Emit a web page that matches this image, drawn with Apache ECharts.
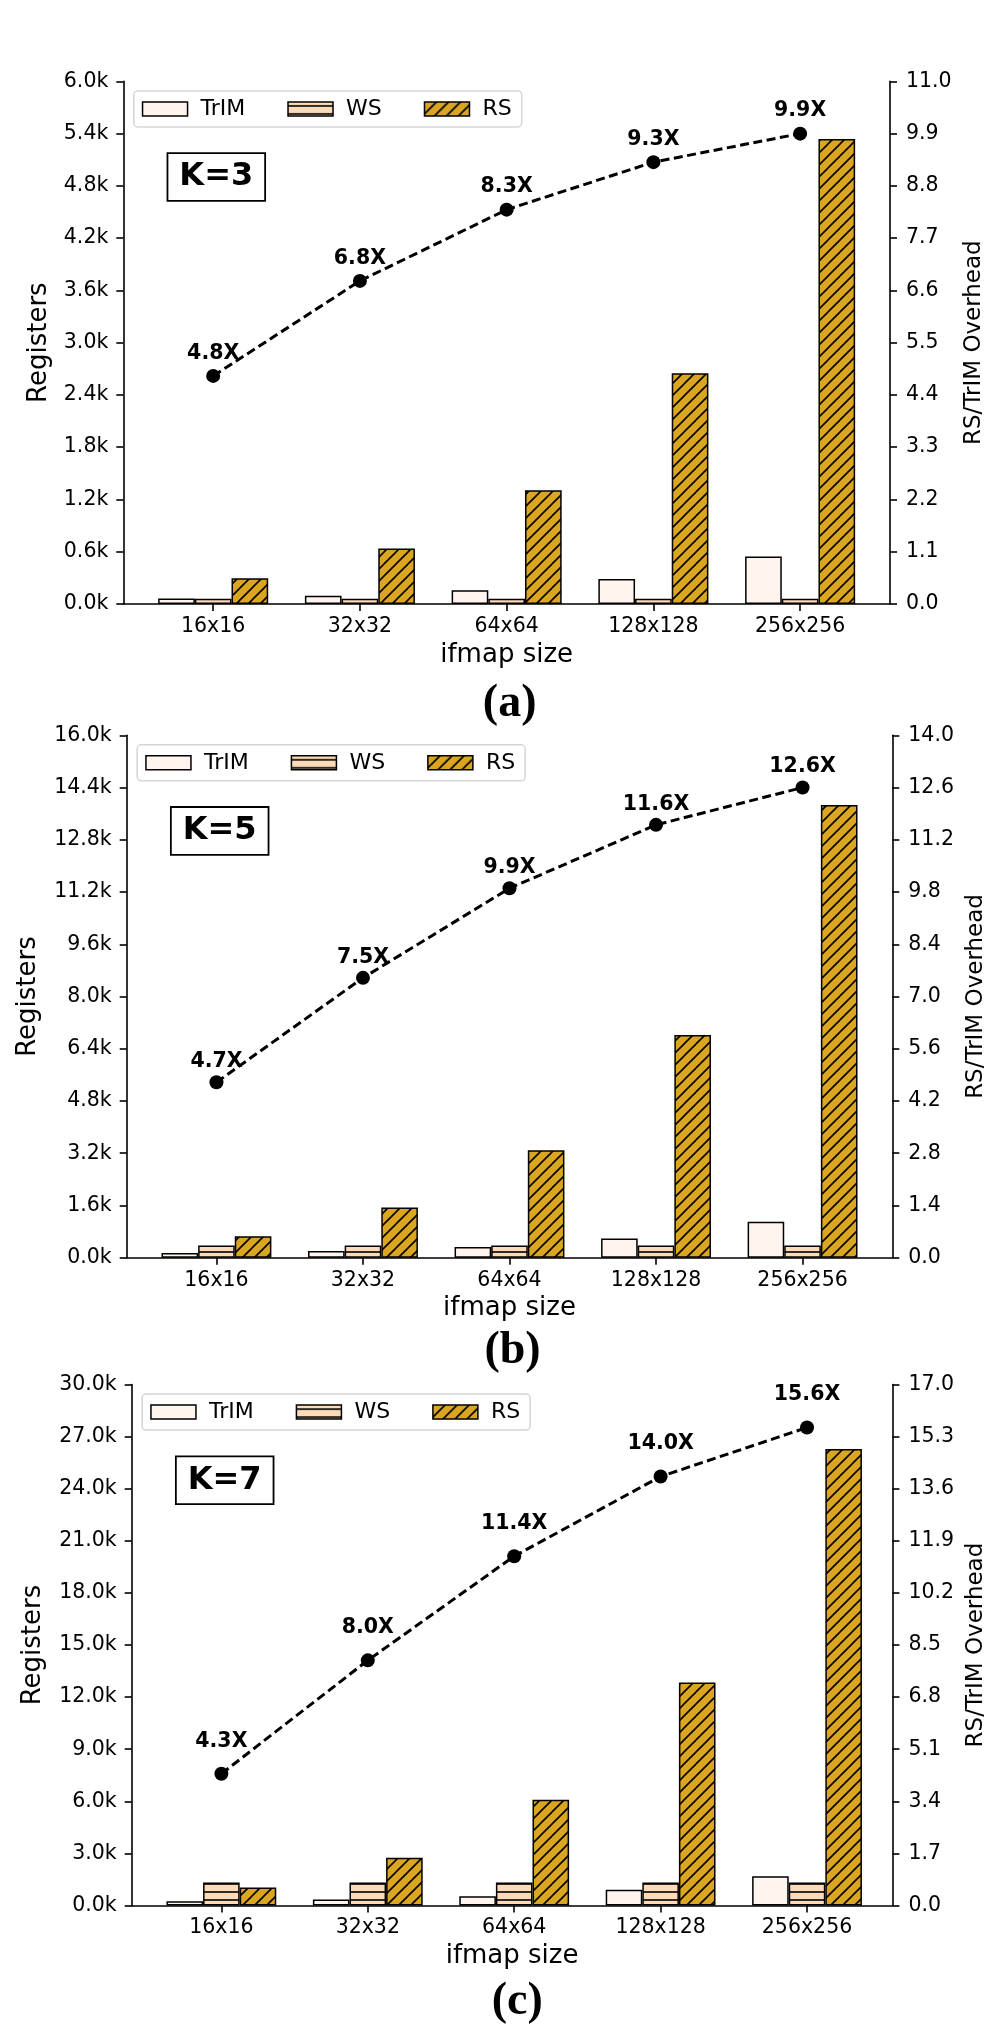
<!DOCTYPE html>
<html>
<head>
<meta charset="utf-8">
<script src="https://cdn.jsdelivr.net/npm/echarts@6/dist/echarts.min.js"></script>
<style>
  html, body { margin: 0; padding: 0; background: #fff; }
  #chart { width: 996px; height: 2025px; }
</style>
</head>
<body>
<div id="chart"></div>
<script>
// ---- data ----
const categories = ["16x16", "32x32", "64x64", "128x128", "256x256"];

const trimK3 = [62, 94, 156, 287, 545];
const wsK3 = [60, 60, 60, 60, 60];
const rsK3 = [295, 636, 1304, 2650, 5340];
const overheadK3 = [4.8, 6.8, 8.3, 9.3, 9.9];

const trimK5 = [145, 206, 328, 586, 1102];
const wsK5 = [375, 375, 375, 375, 375];
const rsK5 = [656, 1536, 3294, 6822, 13868];
const overheadK5 = [4.7, 7.5, 9.9, 11.6, 12.6];

const trimK7 = [241, 345, 538, 914, 1684];
const wsK7 = [1323, 1323, 1323, 1323, 1323];
const rsK7 = [1034, 2743, 6087, 12847, 26295];
const overheadK7 = [4.3, 8.0, 11.4, 14.0, 15.6];

const kLabels = ["K=3", "K=5", "K=7"];
const subLabels = ["(a)", "(b)", "(c)"];
const registerMax = [6000, 16000, 30000];
const overheadMax = [11, 14, 17];

// ---- layout (px) ----
const panels = [
  { L: 123.3, R: 890.0, T: 81.4, B: 603.9, nameGapY: 71, labelDist: 5, subOff: 100 },
  { L: 126.7, R: 892.3, T: 735.3, B: 1257.7, nameGapY: 85, labelDist: 3, subOff: 93 },
  { L: 131.7, R: 896.7, T: 1384.6, B: 1905.5, nameGapY: 85, labelDist: 15, subOff: 96.5 }
];
const seriesData = [
  [trimK3, wsK3, rsK3, overheadK3],
  [trimK5, wsK5, rsK5, overheadK5],
  [trimK7, wsK7, rsK7, overheadK7]
];

const FONT = "DejaVu Sans";

function hatch(bg, kind, size) {
  const c = document.createElement("canvas");
  c.width = size;
  c.height = size;
  const ctx = c.getContext("2d");
  ctx.fillStyle = bg;
  ctx.fillRect(0, 0, size, size);
  if (kind) {
    ctx.strokeStyle = "#000";
    ctx.lineWidth = 1.6;
    ctx.beginPath();
    if (kind === "diag") {
      for (let k = -1; k <= 1; k++) {
        ctx.moveTo(k * size - 1, size + 1);
        ctx.lineTo(k * size + size + 1, -1);
      }
    } else {
      ctx.moveTo(0, size / 2);
      ctx.lineTo(size, size / 2);
    }
    ctx.stroke();
  }
  return c;
}

const trimFill = "#FFF5EE";
const wsFill = { image: hatch("#FFDAB9", "horiz", 8), repeat: "repeat" };
const rsFill = { image: hatch("#DAA520", "diag", 12), repeat: "repeat" };

const axisLine = { show: true, onZero: false, lineStyle: { color: "#000", width: 1.6 } };
const axisTick = { show: true, length: 7, lineStyle: { color: "#000", width: 1.6 } };
const labelStyle = { color: "#000", fontFamily: FONT, fontSize: 20.5 };
const nameStyle = { color: "#000", fontFamily: FONT, fontSize: 23 };
const bigNameStyle = { color: "#000", fontFamily: FONT, fontSize: 26 };

const grid = [], xAxis = [], yAxis = [], series = [], legend = [], graphic = [];

panels.forEach((p, i) => {
  const w = p.R - p.L;
  const unit = w / 5.225;      // px per category step
  const pad = unit * 0.1125;   // extra margin beyond the category bands

  grid.push({ left: p.L, top: p.T, width: w, height: p.B - p.T });
  grid.push({ left: p.L + pad, top: p.T, width: w - 2 * pad, height: p.B - p.T });

  xAxis.push({
    gridIndex: 2 * i, type: "value", min: 0, max: 1,
    axisLine, axisTick: { show: false }, axisLabel: { show: false }, splitLine: { show: false },
    name: "ifmap size", nameLocation: "middle", nameGap: 38, nameTextStyle: bigNameStyle
  });
  xAxis.push({
    gridIndex: 2 * i + 1, type: "category", data: categories,
    axisLine: { show: false },
    axisTick: Object.assign({ alignWithLabel: true }, axisTick),
    axisLabel: Object.assign({ margin: 12 }, labelStyle)
  });

  yAxis.push({
    gridIndex: 2 * i, type: "value", position: "left",
    min: 0, max: registerMax[i], interval: registerMax[i] / 10,
    axisLine, axisTick, splitLine: { show: false },
    axisLabel: Object.assign({ margin: 15, formatter: v => (v / 1000).toFixed(1) + "k" }, labelStyle),
    name: "Registers", nameLocation: "middle", nameGap: p.nameGapY, nameTextStyle: bigNameStyle
  });
  yAxis.push({
    gridIndex: 2 * i, type: "value", position: "right",
    min: 0, max: overheadMax[i], interval: overheadMax[i] / 10,
    axisLine, axisTick, splitLine: { show: false },
    axisLabel: Object.assign({ margin: 16, formatter: v => v.toFixed(1) }, labelStyle),
    name: "RS/TrIM Overhead", nameLocation: "middle", nameGap: 70.5, nameTextStyle: nameStyle
  });
  yAxis.push({ gridIndex: 2 * i + 1, type: "value", min: 0, max: registerMax[i], show: false });
  yAxis.push({ gridIndex: 2 * i + 1, type: "value", min: 0, max: overheadMax[i], show: false, position: "right" });

  const [trim, ws, rs, overhead] = seriesData[i];
  const barW = unit * 0.25;
  const bar = (name, data, color) => ({
    type: "bar", name, data,
    xAxisIndex: 2 * i + 1, yAxisIndex: 4 * i + 2,
    barWidth: barW, barGap: "0%",
    itemStyle: { color, borderColor: "#000", borderWidth: 1.5 }
  });
  series.push(bar("TrIM", trim, trimFill));
  series.push(bar("WS", ws, wsFill));
  series.push(bar("RS", rs, rsFill));
  series.push({
    type: "line", name: "RS/TrIM", data: overhead,
    xAxisIndex: 2 * i + 1, yAxisIndex: 4 * i + 3,
    symbol: "circle", symbolSize: 14, z: 5,
    itemStyle: { color: "#000" },
    lineStyle: { color: "#000", width: 3, type: [9, 4.5] },
    label: {
      show: true, position: "top", distance: p.labelDist,
      formatter: d => d.value.toFixed(1) + "X",
      color: "#000", fontFamily: FONT, fontWeight: "bold", fontSize: 20.5
    }
  });

  legend.push({
    left: p.L + 10.5, top: p.T + 9.5,
    data: ["TrIM", "WS", "RS"],
    icon: "rect", itemWidth: 45, itemHeight: 14, itemGap: 42,
    padding: [7, 10, 7, 8],
    borderColor: "#d6d6d6", borderWidth: 1.5, borderRadius: 4,
    backgroundColor: "rgba(255,255,255,0.8)",
    selectedMode: false,
    itemStyle: { borderColor: "#000", borderWidth: 1.5 },
    textStyle: { color: "#000", fontFamily: FONT, fontSize: 22, padding: [0, 0, 0, 8] }
  });

  graphic.push({
    type: "text", x: p.L + 93, y: p.T + 95.6, z: 10,
    style: {
      text: kLabels[i], font: 'bold 32px "DejaVu Sans"', fill: "#000",
      align: "center", verticalAlign: "middle",
      padding: [7, 11, 7, 11], borderColor: "#000", borderWidth: 1.8, backgroundColor: "#fff"
    }
  });
  graphic.push({
    type: "text", x: (p.L + p.R) / 2 + 3, y: p.B + p.subOff,
    style: {
      text: subLabels[i], font: 'bold 46px "Liberation Serif"', fill: "#000",
      align: "center", verticalAlign: "middle"
    }
  });
});

const chart = echarts.init(document.getElementById("chart"));
chart.setOption({
  animation: false,
  backgroundColor: "#fff",
  grid, xAxis, yAxis, series, legend, graphic
});
</script>
</body>
</html>
